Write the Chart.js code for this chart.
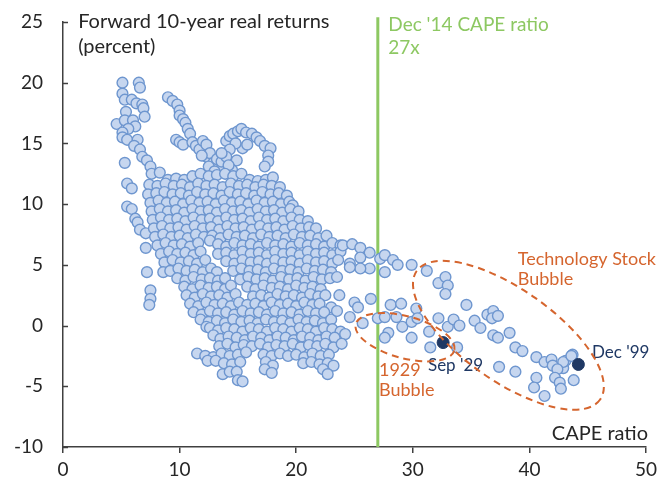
<!DOCTYPE html>
<html>
<head>
<meta charset="utf-8">
<script src="https://cdn.jsdelivr.net/npm/chart.js@4.4.1/dist/chart.umd.min.js"></script>
<style>
  html, body { margin: 0; padding: 0; background: #ffffff; }
  #wrap { width: 659px; height: 480px; }
</style>
</head>
<body>
<div id="wrap"><canvas id="c" width="659" height="480"></canvas></div>
<script>
// ---------- DATA (CAPE ratio, forward 10-year real return %) ----------
const xTicks = [0, 10, 20, 30, 40, 50];
const yTicks = [-10, -5, 0, 5, 10, 15, 20, 25];
const capeDec14 = 27;

const leftStrand = [
  [5.1,20.0],[6.5,20.0],[6.6,19.6],[5.1,19.1],[5.3,18.6],[5.9,18.6],[6.3,18.3],[6.8,18.2],[6.9,17.9],[7.0,17.2],
  [5.4,17.6],[4.6,16.6],[5.3,16.9],[6.0,16.9],[6.2,16.4],[5.6,16.2],[5.1,15.9],[5.1,15.5],[5.5,15.3],[6.4,15.3],
  [6.1,14.8],[6.6,14.5],[6.8,13.9],[7.2,13.6],[7.5,13.1],[5.3,13.4],[5.5,11.7],[5.9,11.3],[5.5,9.8],[5.9,9.6],
  [6.2,8.8],[6.4,8.5],[6.6,7.9],[7.1,7.6],[7.1,6.4],[7.2,4.4],[7.5,2.9],[7.5,2.2],[7.4,1.7]
];

const upperStrand = [
  [9.0,18.8],[9.4,18.5],[9.8,18.2],[10.0,17.7],[10.0,17.3],[10.3,17.0],[10.5,16.7],[10.7,16.2],[10.9,15.8],[9.7,15.3],
  [10.0,15.1],[10.3,14.9],[11.1,15.1],[11.4,14.8],[11.7,14.5],[12.0,15.2],[12.3,14.9],[12.3,13.9],[12.6,14.2],[12.9,13.4],
  [13.2,13.7],[13.5,12.8],[13.6,13.5],[11.9,14.0],[12.5,13.1],[13.0,12.7]
];

const hump = [
  [14.0,15.2],[14.3,15.6],[14.6,15.8],[15.0,16.0],[15.3,16.2],[15.7,15.9],[16.2,15.8],[16.6,15.5],[16.9,15.2],[17.3,14.8],
  [17.8,14.6],[17.6,14.0],[17.6,13.5],[17.3,13.1],[15.4,14.6],[15.8,14.9],[14.8,15.0],[14.3,14.5],[14.9,13.6],[14.5,12.8],
  [14.0,13.9],[13.6,14.2],[14.2,13.2]
];

const mainUpper = [
  [7.6,12.5],[8.3,12.6],[9.0,12.0],[9.7,12.1],[10.4,12.0],[11.1,12.3],[11.8,12.5],[12.5,12.3],[13.2,12.4],[13.9,12.5],[14.6,12.3],[15.3,12.5],[16.0,12.0],[16.7,11.9],[17.4,12.0],[18.0,12.2],
  [7.4,11.6],[8.1,11.5],[8.8,11.7],[9.5,11.5],[10.2,11.6],[10.9,11.4],[11.6,11.7],[12.3,11.5],[13.0,11.6],[13.7,11.4],[14.4,11.7],[15.1,11.5],[15.8,11.6],[16.5,11.4],[17.2,11.6],[17.9,11.5],[18.6,11.4],
  [7.3,10.8],[8.0,10.9],[8.7,11.0],[9.4,10.8],[10.1,10.9],[10.8,10.7],[11.5,11.0],[12.2,10.8],[12.9,10.9],[13.6,10.7],[14.3,11.0],[15.0,10.8],[15.7,10.9],[16.4,10.7],[17.1,11.0],[17.8,10.8],[18.5,10.9],[19.2,10.7],
  [7.5,10.1],[8.2,10.3],[8.9,10.1],[9.6,10.2],[10.3,10.0],[11.0,10.3],[11.7,10.1],[12.4,10.2],[13.1,10.0],[13.8,10.3],[14.5,10.1],[15.2,10.2],[15.9,10.0],[16.6,10.3],[17.3,10.1],[18.0,10.2],[18.7,10.0],[19.4,10.2],[19.7,9.9],
  [7.6,9.4],[8.3,9.6],[9.0,9.4],[9.7,9.5],[10.4,9.3],[11.1,9.6],[11.8,9.4],[12.5,9.5],[13.2,9.3],[13.9,9.6],[14.6,9.4],[15.3,9.5],[16.0,9.3],[16.7,9.6],[17.4,9.4],[18.1,9.5],[18.8,9.3],[19.5,9.6],[20.2,9.4],
  [7.7,8.7],[8.4,8.9],[9.1,8.7],[9.8,8.8],[10.5,8.6],[11.2,8.9],[11.9,8.7],[12.6,8.8],[13.3,8.6],[14.0,8.9],[14.7,8.7],[15.4,8.8],[16.1,8.6],[16.8,8.9],[17.5,8.7],[18.2,8.8],[18.9,8.6],[19.6,8.9],[20.3,8.7],[21.0,8.6],
  [7.8,8.0],[8.5,8.2],[9.2,8.0],[9.9,8.1],[10.6,7.9],[11.3,8.2],[12.0,8.0],[12.7,8.1],[13.4,7.9],[14.1,8.2],[14.8,8.0],[15.5,8.1],[16.2,7.9],[16.9,8.2],[17.6,8.0],[18.3,8.1],[19.0,7.9],[19.7,8.2],[20.4,8.0],[21.1,8.1],[21.7,8.0],
  [7.9,7.3],[8.6,7.5],[9.3,7.3],[10.0,7.4],[10.7,7.2],[11.4,7.5],[12.1,7.3],[12.8,7.4],[13.5,7.2],[14.2,7.5],[14.9,7.3],[15.6,7.4],[16.3,7.2],[17.0,7.5],[17.7,7.3],[18.4,7.4],[19.1,7.2],[19.8,7.5],[20.5,7.3],[21.2,7.4],[21.9,7.2],[22.6,7.4]
];

const mainMiddle = [
  [8.1,6.6],[8.8,6.8],[9.5,6.6],[10.2,6.7],[10.9,6.5],[11.6,6.8],[12.6,7.0],[13.3,6.7],[14.0,6.5],[14.7,6.8],[15.4,6.6],[16.1,6.7],[16.8,6.5],[17.5,6.8],[18.2,6.6],[18.9,6.7],[19.6,6.5],[20.3,6.8],[21.0,6.6],[21.7,6.7],[22.4,6.5],[23.1,6.8],[23.8,6.6],
  [8.4,5.9],[9.1,6.1],[9.8,5.9],[10.5,6.0],[11.2,5.8],[11.8,6.1],[13.3,5.9],[14.0,6.0],[14.7,5.8],[15.4,6.1],[16.1,5.9],[16.8,6.0],[17.5,5.8],[18.2,6.1],[18.9,5.9],[19.6,6.0],[20.3,5.8],[21.0,6.1],[21.7,5.9],[22.4,6.0],[23.1,5.8],[23.8,6.1],
  [8.7,5.2],[9.4,5.4],[10.1,5.2],[10.8,5.3],[11.5,5.1],[12.2,5.4],[14.0,5.3],[14.7,5.1],[15.4,5.4],[16.1,5.2],[16.8,5.3],[17.5,5.1],[18.2,5.4],[18.9,5.2],[19.6,5.3],[20.3,5.1],[21.0,5.4],[21.7,5.2],[22.4,5.3],[23.1,5.1],
  [8.6,4.4],[9.2,4.5],[9.9,4.7],[10.6,4.5],[11.3,4.6],[12.0,4.4],[12.7,4.7],[13.2,4.4],[14.6,4.5],[15.3,4.7],[16.0,4.5],[16.7,4.6],[17.4,4.4],[18.1,4.7],[18.8,4.5],[19.5,4.6],[20.2,4.4],[20.9,4.7],[21.6,4.5],[22.3,4.6],[23.0,4.4],
  [9.8,3.9],[10.5,3.7],[11.2,4.0],[11.9,3.8],[12.6,3.9],[13.3,3.7],[13.9,3.9],[15.2,3.8],[15.9,4.0],[16.6,3.8],[17.3,3.9],[18.0,3.7],[18.7,4.0],[19.4,3.8],[20.1,3.9],[20.8,3.7],[21.5,4.0],[22.2,3.8],[22.9,3.9],
  [10.4,3.2],[11.1,3.0],[11.8,3.3],[12.5,3.1],[13.2,3.2],[13.9,3.0],[14.4,3.3],[15.8,3.2],[16.5,3.0],[17.2,3.3],[17.9,3.1],[18.6,3.2],[19.3,3.0],[20.0,3.3],[20.7,3.1],[21.4,3.2],[22.1,3.0]
];

const mainLower = [
  [10.6,2.5],[11.3,2.3],[12.0,2.6],[12.7,2.4],[13.4,2.5],[14.1,2.3],[14.8,2.6],[16.3,2.4],[17.0,2.5],[17.7,2.3],[18.4,2.6],[19.1,2.4],[19.8,2.5],[20.5,2.3],[21.2,2.6],[21.9,2.4],[22.5,2.5],
  [10.9,1.8],[11.6,1.6],[12.3,1.9],[13.0,1.7],[13.7,1.8],[14.4,1.6],[15.1,1.9],[15.8,1.7],[16.5,1.8],[17.2,1.6],[17.9,1.9],[18.6,1.7],[19.3,1.8],[20.0,1.6],[20.7,1.9],[21.4,1.7],[22.0,1.8],[23.0,1.5],
  [11.2,1.1],[11.9,0.9],[12.6,1.2],[13.3,1.0],[14.0,1.1],[14.7,0.9],[15.4,1.2],[16.1,1.0],[16.8,1.1],[17.5,0.9],[18.2,1.2],[18.9,1.0],[19.6,1.1],[20.3,0.9],[21.0,1.2],[21.7,1.0],[22.4,1.1],
  [11.8,0.5],[12.5,0.3],[13.2,0.4],[13.9,0.2],[14.6,0.5],[15.3,0.3],[16.0,0.4],[16.7,0.2],[17.4,0.5],[18.1,0.3],[18.8,0.4],[19.5,0.2],[20.2,0.5],[20.9,0.3],[21.6,0.4],[22.3,0.2],[23.0,0.5],
  [12.3,-0.1],[12.6,-0.2],[13.3,-0.4],[14.0,-0.2],[14.7,-0.3],[15.4,-0.5],[16.1,-0.2],[16.8,-0.3],[17.5,-0.5],[18.2,-0.2],[18.9,-0.3],[19.6,-0.5],[20.3,-0.2],[21.0,-0.3],[21.7,-0.5],[22.4,-0.2],[23.1,-0.3],[23.8,-0.5],
  [12.9,-0.8],[13.5,-1.1],[14.2,-0.9],[14.9,-1.0],[15.6,-1.2],[16.3,-0.9],[17.0,-1.0],[17.7,-1.2],[18.4,-0.9],[19.1,-1.0],[19.8,-1.2],[20.5,-0.9],[21.2,-1.0],[21.9,-1.2],[22.6,-0.9],[23.3,-1.0],[24.2,-0.7],
  [13.4,-1.7],[14.1,-1.5],[14.8,-1.8],[15.5,-1.6],[16.2,-1.7],[16.9,-1.5],[17.6,-1.8],[18.3,-1.6],[19.0,-1.7],[19.7,-1.5],[20.4,-1.8],[21.1,-1.6],[21.8,-1.7],[22.5,-1.5],[23.2,-1.8],[23.9,-1.5],
  [11.5,-2.3],[12.2,-2.5],[12.9,-2.6],[13.6,-2.3],[14.3,-2.5],[15.0,-2.4],[15.7,-2.2],[17.2,-2.4],[17.9,-2.5],[18.6,-2.3],[19.3,-2.5],[20.0,-2.4],[20.7,-2.6],[21.4,-2.3],[22.1,-2.5],[22.8,-2.4],
  [12.4,-2.9],[13.1,-2.9],[13.8,-3.1],[14.5,-3.2],[15.2,-3.0],[17.4,-3.0],[18.0,-3.3],[20.6,-3.1],[21.3,-3.0],[22.0,-3.2],[22.7,-3.1],[23.2,-3.3],
  [13.7,-4.0],[14.3,-3.8],[14.9,-3.8],[17.3,-3.6],[17.9,-3.9],[22.3,-3.6],[22.7,-4.0],[15.0,-4.5],[15.4,-4.6]
];

const rightTail = [
  [24.0,6.6],[24.8,6.7],[25.5,6.4],[26.3,6.0],[25.5,5.6],[24.6,5.1],[23.6,5.4],[27.2,5.5],[27.6,5.8],[28.3,5.4],
  [28.7,5.0],[29.9,5.0],[31.2,4.5],[27.6,4.4],[26.3,4.7],[25.5,4.7],[24.6,4.8],[23.5,4.0],
  [32.2,3.5],[32.8,4.0],[33.0,3.3],[32.8,2.6],[34.6,1.7],
  [23.7,2.5],[25.0,1.9],[25.3,1.5],[26.4,2.2],[28.1,1.7],[29.0,1.8],[30.3,1.4],[23.5,1.2],[24.6,0.7],[25.7,0.2],
  [27.0,0.6],[27.6,0.7],[28.6,0.7],[29.1,-0.1],[27.9,-0.6],[27.6,-1.0],[29.9,-1.0],[29.9,0.3],[30.4,0.6],[31.5,-1.8],
  [31.4,-0.5],[32.2,0.6],[33.0,-0.1],[33.5,0.5],[34.0,0.0],[33.8,-1.8],[35.3,0.4],[35.8,-0.2],[36.4,0.9],[36.9,1.2],
  [36.8,0.6],[37.3,0.8],[36.9,-0.8],[37.3,-1.0],[38.3,-0.6],[38.8,-1.8],[39.4,-2.1],[37.4,-3.4],[38.8,-3.8],[40.6,-2.6],
  [41.3,-3.0],[41.9,-2.8],[42.0,-3.3],[42.9,-3.5],[43.1,-2.9],[43.7,-2.4],[42.9,-3.0],[43.6,-2.5],[42.4,-3.6],[40.6,-4.3],
  [40.4,-5.1],[41.3,-5.8],[42.2,-4.3],[42.6,-4.7],[42.7,-5.2],[43.8,-4.5]
];

const sep29 = [32.6, -1.4];
const dec99 = [44.2, -3.2];

// ---------- helpers ----------
const toPts = arr => arr.map(p => ({ x: p[0], y: p[1] }));
const cloud = toPts([].concat(leftStrand, upperStrand, hump, mainUpper, mainMiddle, mainLower, rightTail));
const highlights = toPts([sep29, dec99]);

const FONT = 'Lato, "Open Sans", sans-serif';
const ORANGE = '#D5652E';
const GREEN = '#8DC862';
const NAVY = '#1F3864';
const DARK = '#262626';

// annotation anchors in data coordinates
const textNotes = [
  { t: 'Forward 10-year real returns', x: 1.3, y: 25.0, c: DARK, align: 'left', size: 20 },
  { t: '(percent)', x: 1.3, y: 23.0, c: DARK, align: 'left', size: 20 },
  { t: "Dec '14 CAPE ratio", x: 27.9, y: 24.76, c: GREEN, align: 'left', size: 19 },
  { t: '27x', x: 27.9, y: 22.86, c: GREEN, align: 'left', size: 19 },
  { t: 'Technology Stock', x: 39.0, y: 5.47, c: ORANGE, align: 'left', size: 18 },
  { t: 'Bubble', x: 39.0, y: 3.82, c: ORANGE, align: 'left', size: 18 },
  { t: '1929', x: 27.1, y: -3.69, c: ORANGE, align: 'left', size: 18 },
  { t: 'Bubble', x: 27.1, y: -5.34, c: ORANGE, align: 'left', size: 18 },
  { t: "Sep '29", x: 31.3, y: -3.28, c: NAVY, align: 'left', size: 17 },
  { t: "Dec '99", x: 45.37, y: -2.2, c: NAVY, align: 'left', size: 17 },
  { t: 'CAPE ratio', x: 50.17, y: -8.88, c: DARK, align: 'right', size: 20 }
];
const bubbles = [
  { cx: 38.2, cy: -0.8, rx: 112, ry: 46, rot: 35 },
  { cx: 29.33, cy: -0.96, rx: 51, ry: 21, rot: 15 }
];

const notesPlugin = {
  id: 'notes',
  beforeDatasetsDraw(chart) {
    const { ctx, scales: { x, y } } = chart;
    const px = x.getPixelForValue(capeDec14);
    ctx.save();
    ctx.strokeStyle = GREEN;
    ctx.lineWidth = 3;
    ctx.beginPath();
    ctx.moveTo(px, y.getPixelForValue(25.4));
    ctx.lineTo(px, y.getPixelForValue(-10));
    ctx.stroke();
    ctx.restore();
  },
  afterDatasetsDraw(chart) {
    const { ctx, scales: { x, y } } = chart;
    ctx.save();
    ctx.strokeStyle = '#404040';
    ctx.lineWidth = 1.5;
    const left = chart.chartArea.left;
    yTicks.forEach(v => {
      const py = Math.round(y.getPixelForValue(v)) + 0.5;
      ctx.beginPath();
      ctx.moveTo(left, py);
      ctx.lineTo(left + 5, py);
      ctx.stroke();
    });
    ctx.textBaseline = 'middle';
    textNotes.forEach(n => {
      ctx.font = n.size + 'px ' + FONT;
      ctx.fillStyle = n.c;
      ctx.textAlign = n.align;
      ctx.fillText(n.t, x.getPixelForValue(n.x), y.getPixelForValue(n.y));
    });
    ctx.strokeStyle = ORANGE;
    ctx.lineWidth = 2;
    ctx.setLineDash([7, 5]);
    bubbles.forEach(b => {
      ctx.beginPath();
      ctx.ellipse(x.getPixelForValue(b.cx), y.getPixelForValue(b.cy), b.rx, b.ry, b.rot * Math.PI / 180, 0, Math.PI * 2);
      ctx.stroke();
    });
    ctx.restore();
  }
};

new Chart(document.getElementById('c'), {
  type: 'scatter',
  data: {
    datasets: [
      { data: highlights, order: 0, pointRadius: 6, pointHoverRadius: 6, backgroundColor: NAVY, borderColor: NAVY, borderWidth: 1 },
      { data: cloud, order: 1, pointRadius: 5.4, pointHoverRadius: 5.4, borderWidth: 1.4, backgroundColor: '#C6D6EF', borderColor: '#6E96CF' }
    ]
  },
  options: {
    responsive: false,
    animation: false,
    devicePixelRatio: 1,
    layout: { autoPadding: false, padding: { left: 0, right: 13, top: 22, bottom: 0 } },
    plugins: { legend: { display: false }, tooltip: { enabled: false } },
    scales: {
      x: {
        type: 'linear', min: 0, max: 50,
        afterBuildTicks: s => { s.ticks = xTicks.map(v => ({ value: v })); },
        afterFit: s => { s.height = 33; s.paddingLeft = 0; s.paddingRight = 0; },
        border: { display: true, color: '#404040', width: 1.5 },
        grid: { display: true, drawOnChartArea: false, drawTicks: true, tickLength: 6, color: '#404040', lineWidth: 1.5 },
        ticks: { font: { family: FONT, size: 19 }, color: DARK, padding: 5, maxRotation: 0 }
      },
      y: {
        type: 'linear', min: -10, max: 25,
        afterBuildTicks: s => { s.ticks = yTicks.map(v => ({ value: v })); },
        afterFit: s => { s.width = 63; s.paddingTop = 0; s.paddingBottom = 0; },
        border: { display: true, color: '#404040', width: 1.5 },
        grid: { display: false, drawTicks: false },
        ticks: { font: { family: FONT, size: 19 }, color: DARK, padding: 20 }
      }
    }
  },
  plugins: [notesPlugin]
});
</script>
</body>
</html>
